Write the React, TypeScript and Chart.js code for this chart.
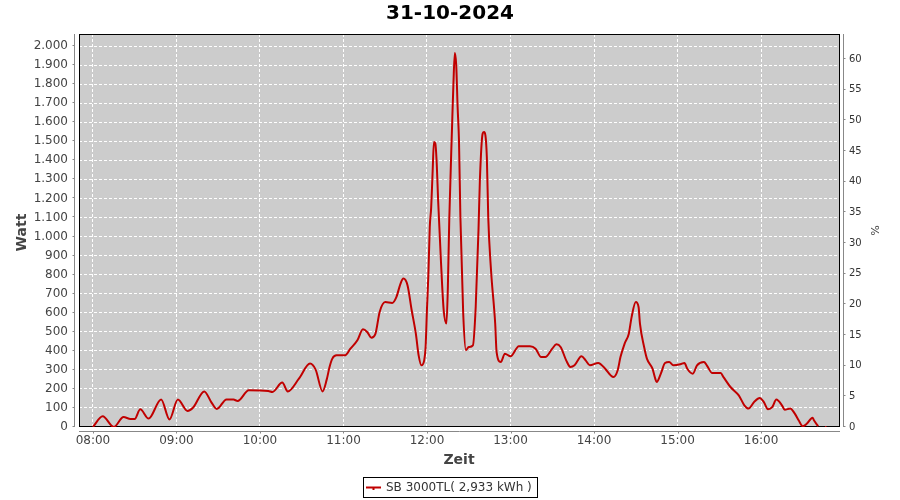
import { useEffect, useRef } from "react";
import { Chart, registerables } from "chart.js";

Chart.register(...registerables);

const TITLE = "31-10-2024";
const SERIES_LABEL = "SB 3000TL( 2,933 kWh )";
const Y_LABEL = "Watt";
const Y1_LABEL = "%";
const X_LABEL = "Zeit";

const TIMES: string[] = [
  "08:00", "08:07", "08:15", "08:22", "08:27", "08:30", "08:34", "08:40", "08:49", "08:55",
  "09:01", "09:08", "09:12", "09:20", "09:25", "09:29", "09:36", "09:41", "09:44", "09:52",
  "10:06", "10:09", "10:16", "10:20", "10:28", "10:36", "10:40", "10:45", "10:48", "10:50", "10:52", "10:55",
  "11:01", "11:05", "11:10", "11:14", "11:17", "11:20", "11:23", "11:26", "11:30", "11:35", "11:38", "11:41", "11:43", "11:46", "11:49", "11:52", "11:54", "11:56", "11:58", "11:59",
  "12:00", "12:01", "12:02", "12:03", "12:04", "12:05", "12:06", "12:07", "12:08", "12:10", "12:12", "12:14", "12:15", "12:16", "12:18", "12:19", "12:20", "12:21", "12:22", "12:23", "12:24", "12:26", "12:28",
  "12:30", "12:33", "12:35", "12:37", "12:38", "12:40", "12:41", "12:43", "12:44", "12:46", "12:49", "12:50", "12:53", "12:56",
  "13:00", "13:06", "13:14", "13:18", "13:22", "13:25", "13:30", "13:33", "13:36", "13:40", "13:43", "13:46", "13:51", "13:54", "13:57",
  "14:03", "14:08", "14:12", "14:14", "14:17", "14:19", "14:22", "14:25", "14:27", "14:30", "14:32", "14:33", "14:36", "14:38", "14:42", "14:44", "14:45", "14:48", "14:51", "14:54", "14:57",
  "15:02", "15:05", "15:07", "15:11", "15:14", "15:19", "15:21", "15:25", "15:31", "15:33", "15:38", "15:44", "15:48", "15:51", "15:55", "15:59",
  "16:02", "16:05", "16:08", "16:11", "16:15", "16:17", "16:21", "16:24", "16:27", "16:30", "16:33", "16:37", "16:38", "16:41", "16:44", "16:46", "16:47",
];

const WATTS: (number | null)[] = [
  0, 56, 0, 52, 42, 42, 93, 44, 145, 40,
  144, 84, 102, 187, 131, 95, 145, 144, 137, 193,
  189, 184, 233, 187, 254, 333, 301, 187, 250, 315, 359, 376,
  376, 411, 455, 513, 499, 469, 490, 604, 656, 651, 682, 753, 779, 744, 613, 490, 376, 324, 350, 420,
  620, 800, 1050, 1150, 1330, 1496, 1488, 1383, 1190, 875, 613, 543, 735, 1085, 1575, 1803, 1963, 1900, 1680, 1500, 1102, 600, 403,
  420, 429, 630, 1032, 1295, 1540, 1548, 1417, 1102, 823, 543, 394, 341, 385,
  371, 424, 424, 411, 367, 367, 411, 434, 420, 350, 315, 324, 371, 350, 324,
  336, 306, 271, 262, 298, 367, 438, 490, 577, 656, 630, 543, 420, 359, 306, 254, 236, 280, 336, 341, 324,
  329, 336, 306, 280, 324, 341, 324, 283, 283, 262, 210, 166, 114, 97, 131, 152,
  131, 93, 104, 144, 114, 91, 97, 73, 35, 4, 18, 49, 35, 4, null, 0, 0,
];

const X_TICKS = ["08:00", "09:00", "10:00", "11:00", "12:00", "13:00", "14:00", "15:00", "16:00"];
const X_RANGE = ["07:50", "16:56"];
const Y_TICKS = [0, 100, 200, 300, 400, 500, 600, 700, 800, 900, 1000, 1100, 1200, 1300, 1400, 1500, 1600, 1700, 1800, 1900, 2000];
const Y_MAX = 2063;
const Y1_TICKS = [0, 5, 10, 15, 20, 25, 30, 35, 40, 45, 50, 55, 60];
const Y1_MAX = 64.1;

const RED = "#c00000";
const PLOT_BG = "#cccccc";
const AXIS_GRAY = "#888888";
const TEXT_GRAY = "#444444";
const FONT = "DejaVu Sans";

const toMin = (t: string) => {
  const [h, m] = t.split(":").map(Number);
  return h * 60 + m;
};
const fmtTime = (v: number) => {
  const h = Math.floor(v / 60);
  const m = Math.round(v - h * 60);
  return `${String(h).padStart(2, "0")}:${String(m).padStart(2, "0")}`;
};
const fmtWatt = (v: number) =>
  v >= 1000 ? `${Math.floor(v / 1000)}.${String(v % 1000).padStart(3, "0")}` : String(v);

const framePlugin = {
  id: "frame",
  beforeDraw(chart: any) {
    const { ctx, chartArea: a } = chart;
    ctx.save();
    ctx.fillStyle = "#ffffff";
    ctx.fillRect(0, 0, chart.width, chart.height);
    ctx.fillStyle = PLOT_BG;
    ctx.fillRect(a.left, a.top, a.right - a.left, a.bottom - a.top);
    ctx.restore();
  },
  beforeDatasetsDraw(chart: any) {
    const { ctx, chartArea: a } = chart;
    ctx.save();
    ctx.strokeStyle = "#000000";
    ctx.lineWidth = 1;
    ctx.strokeRect(a.left + 0.5, a.top + 0.5, a.right - a.left, a.bottom - a.top - 1);
    ctx.restore();
  },
  afterDraw(chart: any) {
    const { ctx, chartArea: a } = chart;
    const sx = chart.scales.x;
    const sy = chart.scales.y;
    const sy1 = chart.scales.y1;
    ctx.save();
    ctx.strokeStyle = AXIS_GRAY;
    ctx.lineWidth = 1;
    ctx.beginPath();
    // left axis
    const lx = a.left - 4.5;
    ctx.moveTo(lx, a.top);
    ctx.lineTo(lx, a.bottom);
    for (const t of sy.ticks) {
      const y = Math.round(sy.getPixelForValue(t.value)) - 0.5;
      ctx.moveTo(lx - 2, y);
      ctx.lineTo(lx, y);
    }
    // right axis
    const rx = a.right + 4.5;
    ctx.moveTo(rx, a.top);
    ctx.lineTo(rx, a.bottom);
    for (const t of sy1.ticks) {
      const y = Math.round(sy1.getPixelForValue(t.value)) - 0.5;
      ctx.moveTo(rx, y);
      ctx.lineTo(rx + 2, y);
    }
    // bottom axis
    const by = a.bottom + 4.5;
    ctx.moveTo(a.left, by);
    ctx.lineTo(a.right + 1, by);
    for (const t of sx.ticks) {
      const x = Math.round(sx.getPixelForValue(t.value)) + 0.5;
      ctx.moveTo(x, by);
      ctx.lineTo(x, by + 2);
    }
    ctx.stroke();

    // title
    ctx.fillStyle = "#000000";
    ctx.font = `bold 20px "${FONT}"`;
    ctx.textAlign = "center";
    ctx.textBaseline = "middle";
    ctx.fillText(TITLE, 450, 14);

    // axis titles
    ctx.fillStyle = TEXT_GRAY;
    ctx.font = `bold 14px "${FONT}"`;
    ctx.fillText(X_LABEL, (a.left + a.right) / 2, 460);
    ctx.save();
    ctx.translate(22, (a.top + a.bottom) / 2 + 2);
    ctx.rotate(-Math.PI / 2);
    ctx.fillText(Y_LABEL, 0, 0);
    ctx.restore();
    ctx.save();
    ctx.font = `11px "${FONT}"`;
    ctx.translate(874, (a.top + a.bottom) / 2);
    ctx.rotate(Math.PI / 2);
    ctx.fillText(Y1_LABEL, 0, 0);
    ctx.restore();

    // legend
    ctx.strokeStyle = "#000000";
    ctx.strokeRect(363.5, 477.5, 174, 20);
    ctx.strokeStyle = RED;
    ctx.lineWidth = 2;
    ctx.beginPath();
    ctx.moveTo(366, 487.5);
    ctx.lineTo(381, 487.5);
    ctx.moveTo(373.5, 487);
    ctx.lineTo(373.5, 490);
    ctx.stroke();
    ctx.fillStyle = "#333333";
    ctx.font = `12px "${FONT}"`;
    ctx.textAlign = "left";
    ctx.fillText(SERIES_LABEL, 386, 488);
    ctx.restore();
  },
};

export default function App() {
  const ref = useRef<HTMLCanvasElement>(null);
  useEffect(() => {
    document.body.style.margin = "0";
    const canvas = ref.current;
    if (!canvas) return;
    const points = TIMES.map((t, i) => ({ x: toMin(t), y: WATTS[i] }));
    const tickFont = { family: FONT, size: 12 };
    const chart = new Chart(canvas, {
      type: "line",
      data: {
        datasets: [
          {
            label: SERIES_LABEL,
            data: points as any,
            borderColor: RED,
            backgroundColor: RED,
            borderWidth: 2,
            pointRadius: 0,
            cubicInterpolationMode: "monotone",
            spanGaps: false,
            fill: false,
            xAxisID: "x",
            yAxisID: "y",
          },
        ],
      },
      options: {
        animation: false,
        responsive: false,
        devicePixelRatio: 1,
        layout: { padding: { top: 34, left: 0, right: 0, bottom: 0 } },
        plugins: {
          legend: { display: false },
          title: { display: false },
          tooltip: { enabled: false },
        },
        scales: {
          x: {
            type: "linear",
            position: "bottom",
            min: toMin(X_RANGE[0]),
            max: toMin(X_RANGE[1]),
            afterFit: (s: any) => {
              s.height = 73;
            },
            afterBuildTicks: (s: any) => {
              s.ticks = X_TICKS.map((t) => ({ value: toMin(t) }));
            },
            ticks: {
              callback: (v: any) => fmtTime(Number(v)),
              color: TEXT_GRAY,
              font: tickFont,
              padding: 7,
              maxRotation: 0,
              autoSkip: false,
            },
            grid: { color: "#ffffff", lineWidth: 1, drawTicks: false },
            border: { display: false, dash: [3, 2] },
          },
          y: {
            type: "linear",
            position: "left",
            min: 0,
            max: Y_MAX,
            afterFit: (s: any) => {
              s.width = 79;
            },
            afterBuildTicks: (s: any) => {
              s.ticks = Y_TICKS.map((v) => ({ value: v }));
            },
            ticks: {
              callback: (v: any) => fmtWatt(Number(v)),
              color: TEXT_GRAY,
              font: tickFont,
              padding: 11,
              autoSkip: false,
            },
            grid: { color: "#ffffff", lineWidth: 1, drawTicks: false },
            border: { display: false, dash: [3, 2] },
          },
          y1: {
            type: "linear",
            position: "right",
            min: 0,
            max: Y1_MAX,
            afterFit: (s: any) => {
              s.width = 61;
            },
            afterBuildTicks: (s: any) => {
              s.ticks = Y1_TICKS.map((v) => ({ value: v }));
            },
            ticks: {
              callback: (v: any) => String(v),
              color: "#333333",
              font: { family: FONT, size: 10 },
              padding: 10,
              autoSkip: false,
            },
            grid: { display: false, drawTicks: false },
            border: { display: false },
          },
        },
      },
      plugins: [framePlugin],
    });
    return () => chart.destroy();
  }, []);
  return (
    <div style={{ position: "absolute", left: 0, top: 0, width: 900, height: 500, background: "#fff" }}>
      <canvas ref={ref} width={900} height={500} style={{ display: "block" }} />
    </div>
  );
}
